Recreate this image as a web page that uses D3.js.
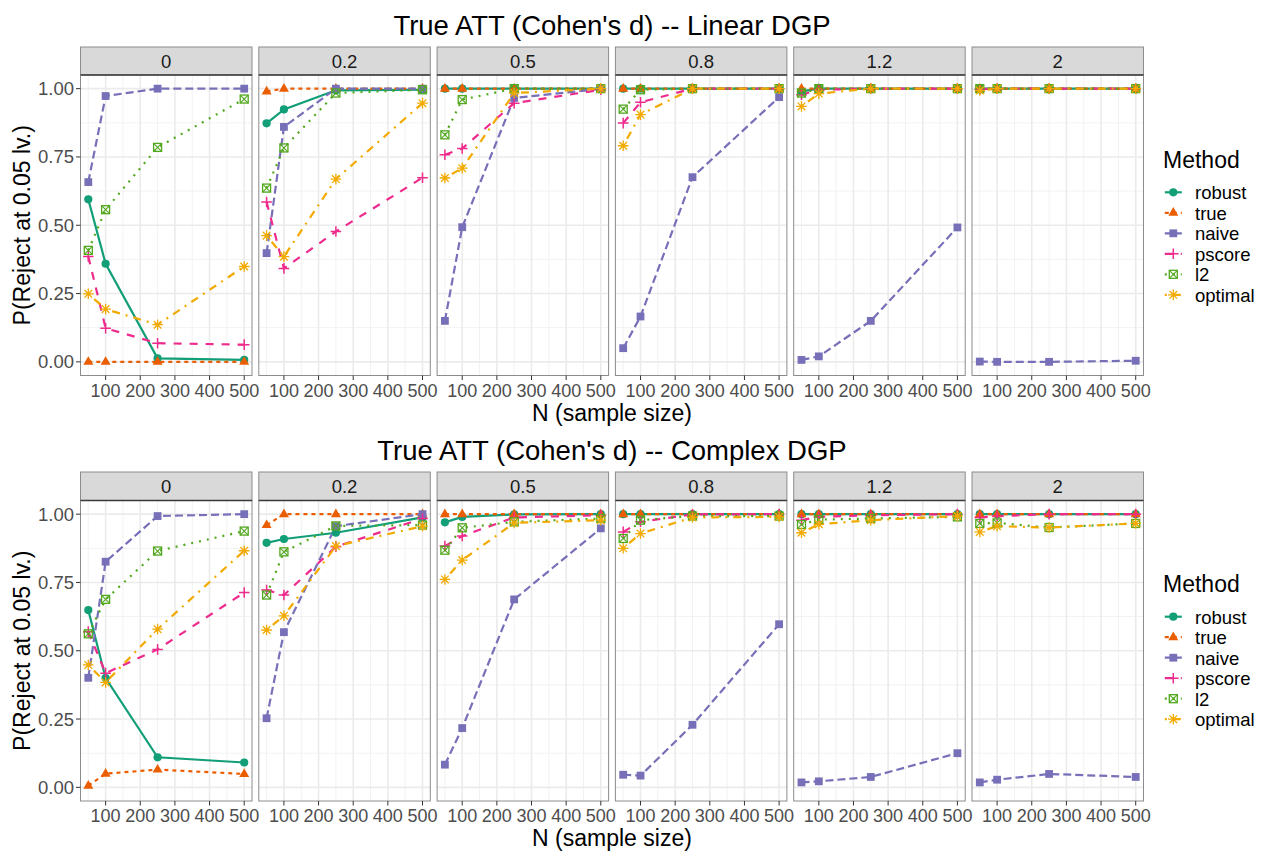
<!DOCTYPE html>
<html>
<head>
<meta charset="utf-8">
<script src="https://cdn.jsdelivr.net/npm/d3@7/dist/d3.min.js"></script>
<style>
  html, body { margin: 0; padding: 0; background: #fff; }
  svg { display: block; }
  text { font-family: "Liberation Sans", Arial, Helvetica, sans-serif; }
</style>
</head>
<body>
<svg id="chart" width="1266" height="851"></svg>
<script>
// ---------------- data ----------------
const methods = ["robust", "true", "naive", "pscore", "l2", "optimal"];
const methodColors = ["#129E77", "#EA5D00", "#7770B8", "#EE2A8C", "#52A81E", "#F2AA00"];
const effectSizes = ["0", "0.2", "0.5", "0.8", "1.2", "2"];
const sampleSizes = [50, 100, 250, 500];
const xTicks = [100, 200, 300, 400, 500];
const yTicks = [0, 0.25, 0.5, 0.75, 1];
const yTickLabels = ["0.00", "0.25", "0.50", "0.75", "1.00"];
const plotTitles = ["True ATT (Cohen's d) -- Linear DGP", "True ATT (Cohen's d) -- Complex DGP"];

// each array: one row of 4 values (N = 50,100,250,500) per effect-size panel
const linearRobust  = [[0.595,0.359,0.013,0.007],[0.873,0.924,0.994,0.996],[1,1,1,1],[1,1,1,1],[0.99,1,1,1],[1,1,1,1]];
const linearTrue    = [[0,0,0,0],[0.99,1,1,1],[1,1,1,1],[1,1,1,1],[1,1,1,1],[1,1,1,1]];
const linearNaive   = [[0.658,0.973,1,1],[0.398,0.86,1,1],[0.15,0.493,0.966,0.999],[0.05,0.166,0.676,0.969],[0.007,0.02,0.15,0.492],[0.001,0,0,0.004]];
const linearPscore  = [[0.386,0.123,0.068,0.063],[0.585,0.342,0.477,0.674],[0.758,0.781,0.947,0.996],[0.874,0.95,1,1],[0.978,0.996,1,1],[0.998,1,1,1]];
const linearL2      = [[0.408,0.557,0.785,0.962],[0.636,0.783,0.984,0.996],[0.831,0.96,1,1],[0.925,0.996,1,1],[0.984,1,1,1],[1,1,1,1]];
const linearOptimal = [[0.249,0.193,0.136,0.349],[0.462,0.385,0.669,0.947],[0.673,0.709,0.984,1],[0.791,0.905,1,1],[0.935,0.982,1,1],[0.993,1,1,1]];

const complexRobust  = [[0.649,0.4,0.11,0.091],[0.895,0.909,0.932,0.988],[0.97,0.99,0.999,1],[1,1,1,1],[1,1,1,1],[1,1,1,1]];
const complexTrue    = [[0.006,0.05,0.065,0.049],[0.96,1,1,1],[1,1,1,1],[1,1,1,1],[1,1,1,1],[1,1,1,1]];
const complexNaive   = [[0.401,0.826,0.993,1],[0.253,0.568,0.956,1],[0.083,0.217,0.688,0.948],[0.046,0.043,0.229,0.597],[0.018,0.022,0.038,0.125],[0.018,0.028,0.049,0.038]];
const complexPscore  = [[0.57,0.418,0.505,0.713],[0.722,0.704,0.881,0.984],[0.883,0.92,0.988,0.996],[0.935,0.972,0.999,1],[0.978,0.99,0.996,1],[0.988,0.993,1,1]];
const complexL2      = [[0.562,0.688,0.865,0.938],[0.704,0.862,0.957,0.96],[0.868,0.95,0.972,0.984],[0.911,0.978,0.993,0.993],[0.962,0.98,0.984,0.99],[0.966,0.968,0.951,0.966]];
const complexOptimal = [[0.448,0.384,0.579,0.866],[0.576,0.628,0.883,0.956],[0.761,0.832,0.968,0.978],[0.875,0.929,0.988,0.99],[0.932,0.963,0.978,0.993],[0.935,0.956,0.951,0.966]];

const plotData = [
  [linearRobust, linearTrue, linearNaive, linearPscore, linearL2, linearOptimal],
  [complexRobust, complexTrue, complexNaive, complexPscore, complexL2, complexOptimal]
];

// ---------------- styling / layout ----------------
const dashes = ["", "4,4", "8,4", "8,8", "2,6", "2,6,8,6"];
const panelLeft0 = 80.5, panelW = 171.5, panelStep = 178.3;
const rows = [
  { titleY: 35, stripTop: 47, panelTop: 75, panelBottom: 375.5, tickY: 397, xTitleY: 421, legTitleY: 167.7, legFirstY: 192.3 },
  { titleY: 460, stripTop: 472, panelTop: 500.5, panelBottom: 801, tickY: 821.5, xTitleY: 846, legTitleY: 592.3, legFirstY: 616.7 }
];
const legendKeyX = 1173.3, legendTextX = 1195, legendStep = 20.5;

const svg = d3.select("#chart");

// shape path generators (ggplot shapes 16,17,15,3,7,8)
function drawShape(g, idx, color) {
  if (idx === 0) {
    g.append("circle").attr("r", 4.1).attr("fill", color);
  } else if (idx === 1) {
    g.append("path").attr("d", "M0,-5.7L5,3L-5,3Z").attr("fill", color);
  } else if (idx === 2) {
    g.append("rect").attr("x", -3.9).attr("y", -3.9).attr("width", 7.8).attr("height", 7.8).attr("fill", color);
  } else if (idx === 3) {
    g.append("path").attr("d", "M-5.3,0H5.3M0,-5.3V5.3").attr("stroke", color).attr("stroke-width", 1.5).attr("fill", "none");
  } else if (idx === 4) {
    g.append("rect").attr("x", -4).attr("y", -4).attr("width", 8).attr("height", 8)
      .attr("fill", "none").attr("stroke", color).attr("stroke-width", 1.3);
    g.append("path").attr("d", "M-4,-4L4,4M-4,4L4,-4").attr("stroke", color).attr("stroke-width", 1.1);
  } else {
    g.append("path").attr("d", "M-5.3,0H5.3M0,-5.3V5.3M-3.8,-3.8L3.8,3.8M-3.8,3.8L3.8,-3.8")
      .attr("stroke", color).attr("stroke-width", 1.3).attr("fill", "none");
  }
}

rows.forEach((row, r) => {
  const g = svg.append("g");
  const y = d3.scaleLinear().domain([-0.05, 1.05]).range([row.panelBottom, row.panelTop]);

  // title
  g.append("text").attr("x", panelLeft0 + (panelStep * 5 + panelW) / 2).attr("y", row.titleY)
    .attr("text-anchor", "middle").attr("font-size", 27.5).attr("fill", "#000").text(plotTitles[r]);

  effectSizes.forEach((eff, p) => {
    const left = panelLeft0 + p * panelStep;
    const x = d3.scaleLinear().domain([27.5, 522.5]).range([left, left + panelW]);
    const pg = g.append("g");

    // strip
    pg.append("rect").attr("x", left).attr("y", row.stripTop).attr("width", panelW)
      .attr("height", row.panelTop - row.stripTop).attr("fill", "#D9D9D9").attr("stroke", "#8c8c8c").attr("stroke-width", 1);
    pg.append("text").attr("x", left + panelW / 2).attr("y", row.stripTop + (row.panelTop - row.stripTop) / 2 + 6.6)
      .attr("text-anchor", "middle").attr("font-size", 18.5).attr("fill", "#1A1A1A").text(eff);

    // panel background
    pg.append("rect").attr("x", left).attr("y", row.panelTop).attr("width", panelW)
      .attr("height", row.panelBottom - row.panelTop).attr("fill", "#fff");

    // minor grid
    const xMinor = [50, 150, 250, 350, 450];
    const yMinor = [0.125, 0.375, 0.625, 0.875];
    pg.selectAll(null).data(xMinor).enter().append("line")
      .attr("x1", d => x(d)).attr("x2", d => x(d)).attr("y1", row.panelTop).attr("y2", row.panelBottom)
      .attr("stroke", "#F2F2F2").attr("stroke-width", 1);
    pg.selectAll(null).data(yMinor).enter().append("line")
      .attr("x1", left).attr("x2", left + panelW).attr("y1", d => y(d)).attr("y2", d => y(d))
      .attr("stroke", "#F2F2F2").attr("stroke-width", 1);
    // major grid
    pg.selectAll(null).data(xTicks).enter().append("line")
      .attr("x1", d => x(d)).attr("x2", d => x(d)).attr("y1", row.panelTop).attr("y2", row.panelBottom)
      .attr("stroke", "#EBEBEB").attr("stroke-width", 1.6);
    pg.selectAll(null).data(yTicks).enter().append("line")
      .attr("x1", left).attr("x2", left + panelW).attr("y1", d => y(d)).attr("y2", d => y(d))
      .attr("stroke", "#EBEBEB").attr("stroke-width", 1.6);

    // clip
    const clipId = `clip-${r}-${p}`;
    svg.append("clipPath").attr("id", clipId).append("rect")
      .attr("x", left).attr("y", row.panelTop).attr("width", panelW).attr("height", row.panelBottom - row.panelTop);
    const dg = pg.append("g").attr("clip-path", `url(#${clipId})`);

    // lines
    const line = d3.line().x((d, i) => x(sampleSizes[i])).y(d => y(d));
    methods.forEach((m, mi) => {
      dg.append("path").datum(plotData[r][mi][p]).attr("d", line)
        .attr("fill", "none").attr("stroke", methodColors[mi]).attr("stroke-width", 2.2)
        .attr("stroke-dasharray", dashes[mi] || null);
    });
    // points
    methods.forEach((m, mi) => {
      plotData[r][mi][p].forEach((v, i) => {
        const sg = dg.append("g").attr("transform", `translate(${x(sampleSizes[i])},${y(v)})`);
        drawShape(sg, mi, methodColors[mi]);
      });
    });

    // border
    pg.append("rect").attr("x", left).attr("y", row.panelTop).attr("width", panelW)
      .attr("height", row.panelBottom - row.panelTop).attr("fill", "none").attr("stroke", "#8c8c8c").attr("stroke-width", 1);
    pg.append("line").attr("x1", left).attr("x2", left + panelW).attr("y1", row.panelTop).attr("y2", row.panelTop)
      .attr("stroke", "#3a3a3a").attr("stroke-width", 1.6);

    // x axis ticks and labels
    pg.selectAll(null).data(xTicks).enter().append("line")
      .attr("x1", d => x(d)).attr("x2", d => x(d)).attr("y1", row.panelBottom).attr("y2", row.panelBottom + 4.5)
      .attr("stroke", "#333").attr("stroke-width", 1);
    pg.selectAll(null).data(xTicks).enter().append("text")
      .attr("x", d => x(d)).attr("y", row.tickY).attr("text-anchor", "middle")
      .attr("font-size", 18).attr("fill", "#4D4D4D").text(d => d);

    // y axis on first panel
    if (p === 0) {
      pg.selectAll(null).data(yTicks).enter().append("line")
        .attr("x1", left - 4.5).attr("x2", left).attr("y1", d => y(d)).attr("y2", d => y(d))
        .attr("stroke", "#333").attr("stroke-width", 1);
      pg.selectAll(null).data(yTicks).enter().append("text")
        .attr("x", left - 6.5).attr("y", d => y(d) + 6.5).attr("text-anchor", "end")
        .attr("font-size", 18.5).attr("fill", "#4D4D4D").text((d, i) => yTickLabels[i]);
    }
  });

  // axis titles
  g.append("text").attr("x", panelLeft0 + (panelStep * 5 + panelW) / 2).attr("y", row.xTitleY)
    .attr("text-anchor", "middle").attr("font-size", 23).attr("fill", "#000").text("N (sample size)");
  const yc = (row.panelTop + row.panelBottom) / 2;
  g.append("text").attr("transform", `translate(30,${yc}) rotate(-90)`)
    .attr("text-anchor", "middle").attr("font-size", 23).attr("fill", "#000").text("P(Reject at 0.05 lv.)");

  // legend
  g.append("text").attr("x", 1163).attr("y", row.legTitleY).attr("font-size", 23).attr("fill", "#000").text("Method");
  methods.forEach((m, mi) => {
    const cy = row.legFirstY + mi * legendStep;
    g.append("line").attr("x1", legendKeyX - 8.5).attr("x2", legendKeyX + 8.5).attr("y1", cy).attr("y2", cy)
      .attr("stroke", methodColors[mi]).attr("stroke-width", 2.2).attr("stroke-dasharray", dashes[mi] || null);
    const sg = g.append("g").attr("transform", `translate(${legendKeyX},${cy})`);
    drawShape(sg, mi, methodColors[mi]);
    g.append("text").attr("x", legendTextX).attr("y", cy + 7).attr("font-size", 18.5).attr("fill", "#000").text(m);
  });
});
</script>
</body>
</html>
